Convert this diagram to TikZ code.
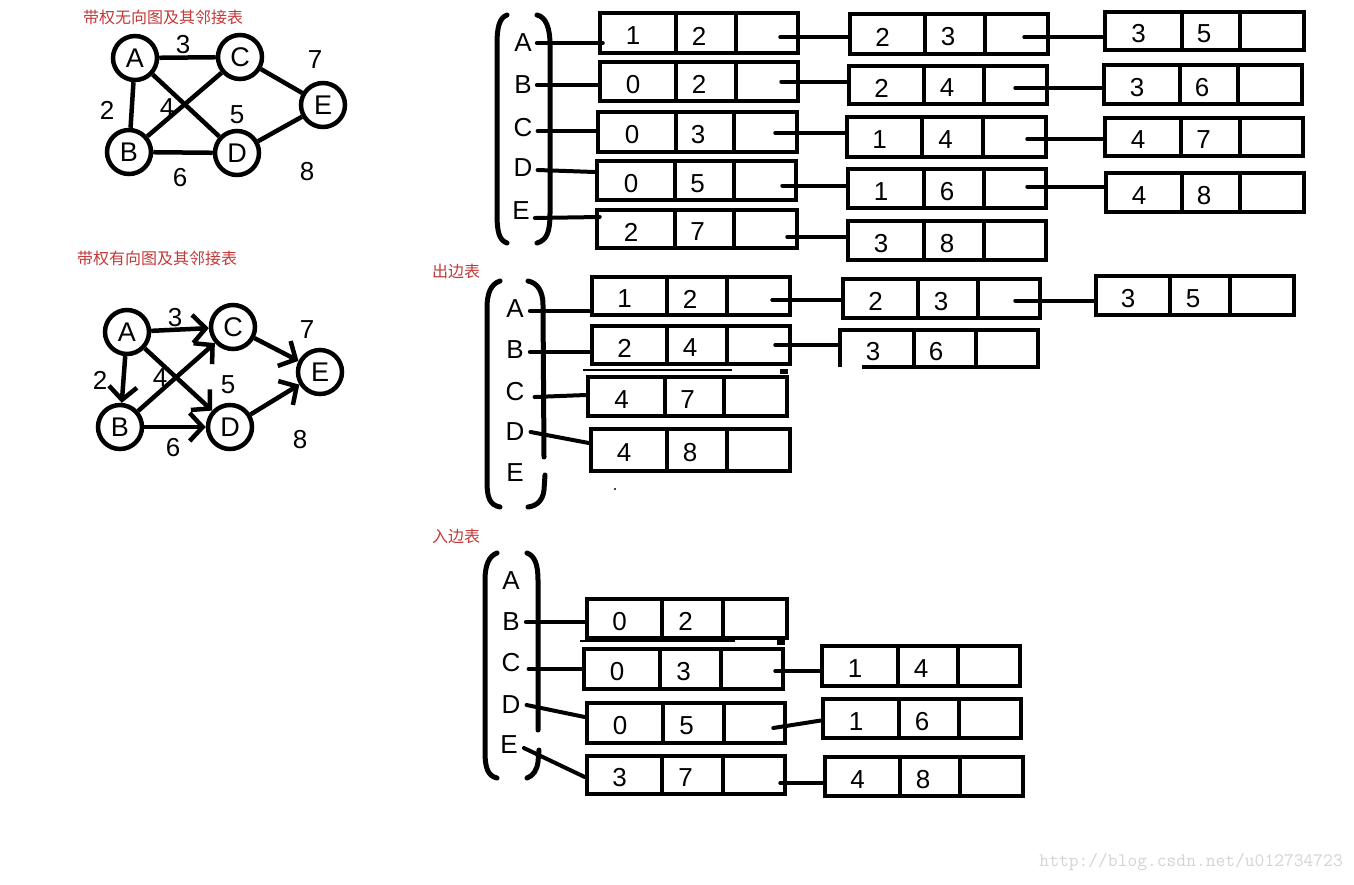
\documentclass[tikz,border=0pt]{standalone}
\usepackage{fontspec}
\setmainfont{Liberation Sans}
\newfontfamily\cjk{Noto Sans CJK SC}
\usetikzlibrary{fit,arrows.meta}
\definecolor{titlered}{RGB}{196,58,58}
\definecolor{wmgray}{RGB}{212,212,212}
\tikzset{
 cellline/.style={line width=4.5pt},
 conn/.style={line width=4pt, line cap=round},
 val/.style={font=\fontsize{26}{30}\selectfont, inner sep=0pt},
 lab/.style={font=\fontsize{26}{30}\selectfont, inner sep=0pt},
 vtx/.style={circle, draw, line width=4.5pt, minimum size=44pt, inner sep=0pt, font=\fontsize{27}{30}\selectfont},
 uedge/.style={line width=4.5pt},
 arc/.style={line width=4.5pt, -{Straight Barb[length=13pt,width=28pt,line width=4.5pt]}},
 paren/.style={line width=5pt, line cap=round},
 ttl/.style={font=\cjk\fontsize{16}{18}\selectfont, text=titlered, inner sep=0pt, anchor=west},
 stray/.style={line width=1.2pt},
}
% name, x1, y1, x2, y2, divider1, divider2, value1, value2
\newcommand\lbox[9]{%
 \node[draw, line width=4.5pt, inner sep=0pt, fit={(#2,#3) (#4,#5)}] (#1) {};
 \draw[cellline] (#6,#3) -- (#6,#5) (#7,#3) -- (#7,#5);
 \node[val] (#1-a) at ({(#2+#6)/2-5},{(#3+#5)/2+3}) {#8};
 \node[val] (#1-b) at ({(#6+#7)/2-7},{(#3+#5)/2+3}) {#9};
}
\begin{document}
\begin{tikzpicture}[x=1pt,y=-1pt]
\useasboundingbox[fill=white] (0,0) rectangle (1354,884);

% ---------- undirected graph ----------
\node[ttl] (t1) at (83,17) {带权无向图及其邻接表};
\node[vtx] (gA) at (135,58) {A};
\node[vtx] (gC) at (240,57) {C};
\node[vtx] (gE) at (323,105) {E};
\node[vtx] (gB) at (129,152) {B};
\node[vtx] (gD) at (237,153) {D};
\draw[uedge] (gA) -- (gC);
\draw[uedge] (gA) -- (gB);
\draw[uedge] (gA) -- (gD);
\draw[uedge] (gB) -- (gC);
\draw[uedge] (gB) -- (gD);
\draw[uedge] (gC) -- (gE);
\draw[uedge] (gD) -- (gE);
\node[lab] (w1) at (183,45) {3};
\node[lab] (w2) at (315,60) {7};
\node[lab] (w3) at (107,110) {2};
\node[lab] (w4) at (167,108) {4};
\node[lab] (w5) at (237,115) {5};
\node[lab] (w6) at (180,178) {6};
\node[lab] (w7) at (307,172) {8};

% ---------- directed graph ----------
\node[ttl] (t2) at (77,258) {带权有向图及其邻接表};
\node[vtx] (hA) at (127,332) {A};
\node[vtx] (hC) at (233,327) {C};
\node[vtx] (hE) at (320,372) {E};
\node[vtx] (hB) at (120,427) {B};
\node[vtx] (hD) at (230,427) {D};
\draw[arc] (hA) -- (hC);
\draw[arc] (hA) -- (hB);
\draw[arc] (hA) -- (hD);
\draw[arc] (hB) -- (hC);
\draw[arc] (hB) -- (hD);
\draw[arc] (hC) -- (hE);
\draw[arc] (hD) -- (hE);
\node[lab] (v1) at (175,318) {3};
\node[lab] (v2) at (307,330) {7};
\node[lab] (v3) at (100,380) {2};
\node[lab] (v4) at (160,378) {4};
\node[lab] (v5) at (228,385) {5};
\node[lab] (v6) at (173,448) {6};
\node[lab] (v7) at (300,440) {8};

% ---------- undirected adjacency list ----------
\draw[paren] (507,15) .. controls (499,18) and (497,28) .. (497,45) -- (497,213) .. controls (497,232) and (499,240) .. (507,243);
\draw[paren] (537,15) .. controls (546,17) and (550,28) .. (550,45) -- (550,213) .. controls (550,232) and (547,240) .. (537,243);
\node[lab] (uA) at (523,43) {A};
\node[lab] (uB) at (523,85) {B};
\node[lab] (uC) at (523,128) {C};
\node[lab] (uD) at (523,168) {D};
\node[lab] (uE) at (521,211) {E};
\lbox{u1a}{600}{13}{798}{53}{676}{736}{1}{2}
\lbox{u1b}{600}{62}{798}{101}{676}{736}{0}{2}
\lbox{u1c}{598}{112}{797}{152}{676}{734}{0}{3}
\lbox{u1d}{597}{161}{796}{200}{675}{734}{0}{5}
\lbox{u1e}{597}{210}{797}{248}{675}{734}{2}{7}
\lbox{u2a}{850}{14}{1048}{54}{925}{985}{2}{3}
\lbox{u2b}{849}{66}{1047}{104}{924}{984}{2}{4}
\lbox{u2c}{847}{117}{1046}{157}{922}{983}{1}{4}
\lbox{u2d}{848}{169}{1046}{208}{924}{984}{1}{6}
\lbox{u2e}{848}{221}{1046}{260}{924}{984}{3}{8}
\lbox{u3a}{1105}{12}{1304}{50}{1182}{1240}{3}{5}
\lbox{u3b}{1104}{65}{1302}{104}{1180}{1238}{3}{6}
\lbox{u3c}{1105}{118}{1303}{156}{1181}{1240}{4}{7}
\lbox{u3d}{1106}{173}{1304}{212}{1182}{1240}{4}{8}
\draw[conn] ([xshift=5pt]uA.east) -- ([xshift=5pt]uA.east -| u1a.west);
\draw[conn] ([xshift=5pt]uB.east) -- (uB.east -| u1b.west);
\draw[conn] ([xshift=5pt,yshift=-3pt]uC.east) -- ([yshift=-3pt]uC.east -| u1c.west);
\draw[conn] ([xshift=5pt,yshift=-2pt]uD.east) -- ([yshift=-4pt]uD.east -| u1d.west);
\draw[conn] ([xshift=5pt,yshift=-7pt]uE.east) -- ([xshift=5pt,yshift=-6pt]uE.east -| u1e.west);
\draw[conn] ([xshift=-20pt,yshift=-4pt]u1a.east) -- ([yshift=-4pt]u1a.east -| u2a.west);
\draw[conn] ([xshift=-19pt]u1b.east) -- (u1b.east -| u2b.west);
\draw[conn] ([xshift=-24pt,yshift=-1pt]u1c.east) -- ([yshift=-1pt]u1c.east -| u2c.west);
\draw[conn] ([xshift=-16pt,yshift=-5pt]u1d.east) -- ([yshift=-5pt]u1d.east -| u2d.west);
\draw[conn] ([xshift=-12pt,yshift=-8pt]u1e.east) -- ([yshift=-8pt]u1e.east -| u2e.west);
\draw[conn] ([xshift=-26pt,yshift=-3pt]u2a.east) -- ([yshift=-3pt]u2a.east -| u3a.west);
\draw[conn] ([xshift=-34pt,yshift=-3pt]u2b.east) -- ([yshift=-3pt]u2b.east -| u3b.west);
\draw[conn] ([xshift=-21pt,yshift=-2pt]u2c.east) -- ([yshift=-2pt]u2c.east -| u3c.west);
\draw[conn] ([xshift=-21pt,yshift=2pt]u2d.east) -- ([yshift=2pt]u2d.east -| u3d.west);

% ---------- out-edge list ----------
\node[ttl] (t3) at (432,271) {出边表};
\draw[paren] (500,281) .. controls (491,284) and (487,293) .. (487,308) -- (487,482) .. controls (487,498) and (490,505) .. (500,507);
\draw[paren] (528,281) .. controls (538,283) and (543,292) .. (543,305) -- (544,457);
\draw[paren] (545,475) -- (544,490) .. controls (543,500) and (537,506) .. (528,507);
\node[lab] (oA) at (515,309) {A};
\node[lab] (oB) at (515,350) {B};
\node[lab] (oC) at (515,392) {C};
\node[lab] (oD) at (515,432) {D};
\node[lab] (oE) at (515,473) {E};
\lbox{o1a}{592}{277}{790}{315}{667}{727}{1}{2}
\lbox{o1b}{592}{326}{790}{364}{667}{727}{2}{4}
\lbox{o1c}{588}{377}{787}{416}{665}{724}{4}{7}
\lbox{o1d}{591}{429}{790}{471}{667}{727}{4}{8}
\lbox{o2a}{843}{279}{1040}{318}{918}{978}{2}{3}
\lbox{o3a}{1096}{276}{1294}{315}{1170}{1230}{3}{5}
% partial box
\node[inner sep=0pt, fit={(840,330) (1038,367)}] (o2b) {};
\draw[cellline] (840,367) -- (840,330) -- (1038,330) -- (1038,367) -- (862,367);
\draw[cellline] (914,330) -- (914,367) (976,330) -- (976,367);
\node[val] (o2b-a) at (873,352) {3};
\node[val] (o2b-b) at (936,352) {6};
\draw[conn] ([xshift=6pt,yshift=-2pt]oA.east) -- ([yshift=-2pt]oA.east -| o1a.west);
\draw[conn] ([xshift=6pt,yshift=-2pt]oB.east) -- ([yshift=-2pt]oB.east -| o1b.west);
\draw[conn] ([xshift=10pt,yshift=-5pt]oC.east) -- ([yshift=-3pt]oC.east -| o1c.west);
\draw[conn] ([xshift=6pt]oD.east) -- ([yshift=7pt]o1d.west);
\draw[conn] ([xshift=-20pt,yshift=-4pt]o1a.east) -- ([yshift=-4pt]o1a.east -| o2a.west);
\draw[conn] ([xshift=-17pt]o1b.east) -- (o1b.east -| o2b.west);
\draw[conn] ([xshift=-27pt,yshift=-2pt]o2a.east) -- ([yshift=-2pt]o2a.east -| o3a.west);
\draw[stray] (583,370) -- (732,370);
\fill (780,369) rectangle (788,374);
\fill (615,489) circle (1.2pt);

% ---------- in-edge list ----------
\node[ttl] (t4) at (432,536) {入边表};
\draw[paren] (497,553) .. controls (489,556) and (485,565) .. (485,580) -- (485,752) .. controls (485,768) and (488,776) .. (497,778);
\draw[paren] (527,553) .. controls (535,556) and (538,565) .. (538,580) -- (538,730);
\draw[paren] (539,750) -- (538,762) .. controls (537,770) and (533,776) .. (527,778);
\node[lab] (iA) at (511,581) {A};
\node[lab] (iB) at (511,622) {B};
\node[lab] (iC) at (511,663) {C};
\node[lab] (iD) at (511,705) {D};
\node[lab] (iE) at (509,745) {E};
\lbox{i1b}{587}{599}{787}{638}{662}{723}{0}{2}
\lbox{i1c}{584}{649}{783}{689}{660}{721}{0}{3}
\lbox{i1d}{587}{703}{785}{743}{663}{724}{0}{5}
\lbox{i1e}{587}{756}{785}{794}{662}{723}{3}{7}
\lbox{i2c}{822}{646}{1020}{686}{898}{958}{1}{4}
\lbox{i2d}{823}{699}{1021}{738}{899}{959}{1}{6}
\lbox{i2e}{825}{757}{1023}{796}{900}{960}{4}{8}
\draw[conn] ([xshift=6pt]iB.east) -- (iB.east -| i1b.west);
\draw[conn] ([xshift=8pt,yshift=-6pt]iC.east) -- ([yshift=-6pt]iC.east -| i1c.west);
\draw[conn] ([xshift=6pt]iD.east) -- ([yshift=6pt]i1d.west);
\draw[conn] ([xshift=6pt,yshift=-3pt]iE.east) -- ([yshift=-2pt]i1e.west);
\draw[conn] ([xshift=-10pt,yshift=-2pt]i1c.east) -- ([yshift=-2pt]i1c.east -| i2c.west);
\draw[conn] ([xshift=-14pt,yshift=-5pt]i1d.east) -- ([yshift=-2pt]i2d.west);
\draw[conn] ([xshift=-7pt,yshift=-8pt]i1e.east) -- ([yshift=-8pt]i1e.east -| i2e.west);
\draw[stray] (580,641) -- (735,641);
\fill (777,640) rectangle (785,645);

% ---------- watermark ----------
\node[font=\ttfamily\fontsize{19}{22}\selectfont, text=wmgray, anchor=east, inner sep=0pt] (wm) at (1343,862) {http://blog.csdn.net/u012734723};
\end{tikzpicture}
\end{document}
